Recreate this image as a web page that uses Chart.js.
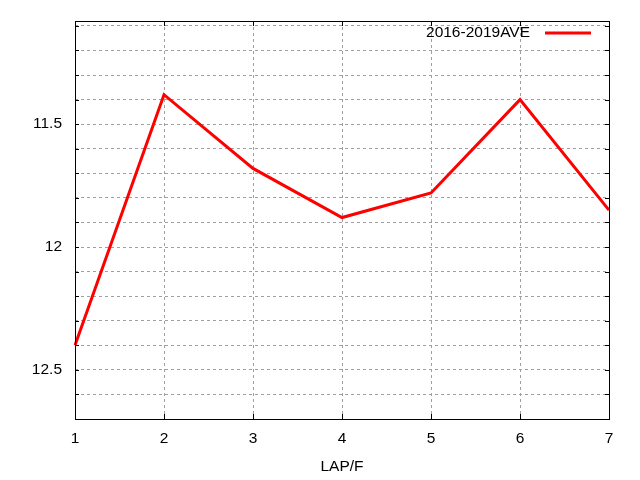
<!DOCTYPE html>
<html>
<head>
<meta charset="utf-8">
<script src="https://cdn.jsdelivr.net/npm/chart.js@4.4.0/dist/chart.umd.min.js"></script>
<style>
  html, body { margin: 0; padding: 0; background: #fff; }
  canvas { display: block; }
</style>
</head>
<body>
<canvas id="graphique" width="640" height="480"></canvas>
<script>
const laps = ["1", "2", "3", "4", "5", "6", "7"]
const moyenne = [12.40, 11.38, 11.68, 11.88, 11.78, 11.40, 11.85]
const serieLabel = "2016-2019AVE"
const yLabels = [11.5, 12, 12.5]
const police = { family: "Liberation Sans", size: 15.5 }

// cadre noir, petites graduations vers l'intérieur et légende, façon gnuplot
const cadre = {
    id: "cadre",
    afterDraw(chart) {
        const { ctx, chartArea: a, scales } = chart
        ctx.save()
        ctx.strokeStyle = "#000"
        ctx.lineWidth = 1
        ctx.beginPath()
        for (const t of scales.y.ticks) {
            const y = Math.round(scales.y.getPixelForValue(t.value)) + 0.5
            ctx.moveTo(a.left, y); ctx.lineTo(a.left + 4, y)
            ctx.moveTo(a.right, y); ctx.lineTo(a.right - 4, y)
        }
        for (let i = 0; i < laps.length; i++) {
            const x = Math.round(scales.x.getPixelForValue(i)) + 0.5
            ctx.moveTo(x, a.bottom); ctx.lineTo(x, a.bottom - 5)
            ctx.moveTo(x, a.top); ctx.lineTo(x, a.top + 5)
        }
        ctx.stroke()
        ctx.strokeRect(Math.round(a.left) + 0.5, Math.round(a.top) + 0.5,
            Math.round(a.right - a.left), Math.round(a.bottom - a.top))

        // légende en haut à droite
        const ds = chart.data.datasets[0]
        const ly = a.top + 12
        ctx.font = police.size + "px " + police.family
        ctx.fillStyle = "#000"
        ctx.textAlign = "right"
        ctx.textBaseline = "middle"
        ctx.fillText(ds.label, a.right - 79, ly)
        ctx.strokeStyle = ds.borderColor
        ctx.lineWidth = 3
        ctx.beginPath()
        ctx.moveTo(a.right - 64, ly)
        ctx.lineTo(a.right - 18, ly)
        ctx.stroke()
        ctx.restore()
    }
}

const data = {
    labels: laps,
    datasets: [{
        label: serieLabel,
        data: moyenne,
        borderColor: "rgb(255, 0, 0)",
        backgroundColor: "rgb(255, 0, 0)",
        borderWidth: 3,
        pointRadius: 0,
        tension: 0,
    }],
}

const grille = {
    color: "#a0a0a0",
    lineWidth: 1,
    tickLength: 0,
}

const config = {
    type: "line",
    data: data,
    options: {
        responsive: false,
        animation: false,
        layout: { padding: { top: 21, right: 31, left: 0, bottom: 0 } },
        plugins: {
            legend: { display: false },
            tooltip: { enabled: false },
        },
        scales: {
            x: {
                offset: false,
                grid: grille,
                border: { display: false, dash: [3, 3] },
                ticks: {
                    color: "#000",
                    font: police,
                    padding: 10,
                    maxRotation: 0,
                },
                title: {
                    display: true,
                    text: "LAP/F",
                    color: "#000",
                    font: police,
                    padding: { top: 6 },
                },
                afterFit(scale) {
                    scale.height = 61
                    scale.paddingLeft = 0
                    scale.paddingRight = 0
                },
            },
            y: {
                reverse: true,
                min: 11.08,
                max: 12.7,
                grid: grille,
                border: { display: false, dash: [3, 3] },
                ticks: {
                    stepSize: 0.1,
                    autoSkip: false,
                    color: "#000",
                    font: police,
                    padding: 13,
                    callback: v => yLabels.some(l => Math.abs(l - v) < 1e-6) ? String(Math.round(v * 10) / 10) : "",
                },
                afterBuildTicks(scale) {
                    const t = []
                    for (let k = 111; k <= 127; k++) t.push({ value: k / 10 })
                    scale.ticks = t
                },
                afterFit(scale) {
                    scale.width = 75
                    scale.paddingTop = 0
                    scale.paddingBottom = 0
                },
            },
        },
    },
    plugins: [cadre],
}

new Chart(document.querySelector("#graphique"), config)
</script>
</body>
</html>
